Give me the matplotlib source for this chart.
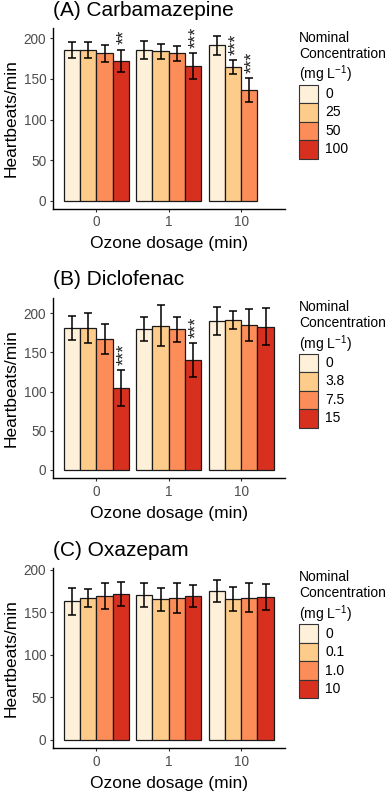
"""Heart rate bar charts for three drugs after ozone treatment (three stacked panels)."""
import numpy as np
import matplotlib
matplotlib.use("Agg")
import matplotlib.pyplot as plt
from matplotlib.patches import Rectangle

plt.rcParams["font.family"] = ["Liberation Sans", "DejaVu Sans"]
plt.rcParams["mathtext.fontset"] = "custom"
plt.rcParams["mathtext.rm"] = "Liberation Sans"

ozone_labels = ["0", "1", "10"]
colors = ["#FEF0D9", "#FDCC8A", "#FC8D59", "#D7301F"]
nan = np.nan

# rows = ozone dosage (0, 1, 10 min), columns = nominal concentration level
carb_conc = ["0", "25", "50", "100"]
carb_mean = [[185.6, 185.6, 182.0, 172.5],
             [185.6, 184.4, 182.0, 166.0],
             [191.4, 164.7, 136.0, nan]]
carb_err = [[9.5, 9.5, 10.5, 13.8],
            [11.0, 9.2, 9.2, 15.8],
            [11.7, 9.0, 15.0, nan]]
carb_stars = [(0, 3, "**"), (1, 3, "***"), (2, 1, "***"), (2, 2, "***")]

diclo_conc = ["0", "3.8", "7.5", "15"]
diclo_mean = [[181.2, 181.2, 167.0, 104.7],
              [180.3, 184.2, 179.5, 140.6],
              [189.7, 191.5, 185.0, 183.0]]
diclo_err = [[15.0, 19.0, 18.8, 22.4],
             [15.6, 26.5, 16.0, 21.4],
             [18.0, 11.3, 20.0, 23.3]]
diclo_stars = [(0, 3, "***"), (1, 3, "***")]

oxa_conc = ["0", "0.1", "1.0", "10"]
oxa_mean = [[163.1, 167.0, 169.8, 171.4],
            [170.6, 165.5, 167.0, 169.8],
            [175.4, 165.9, 167.5, 168.7]]
oxa_err = [[15.5, 10.5, 15.3, 14.1],
           [14.5, 13.3, 17.5, 13.1],
           [13.1, 14.3, 16.7, 15.3]]
oxa_stars = []

W, H = 387, 791
fig = plt.figure(figsize=(W / 100, H / 100), dpi=100)


def px_rect(left, top, right, bottom):
    return [left / W, 1 - bottom / H, (right - left) / W, (bottom - top) / H]


def panel(top, bottom, title, mean, err, stars, conc, ylim):
    ax = fig.add_axes(px_rect(53, top, 284.5, bottom))
    mean = np.array(mean, dtype=float)
    err = np.array(err, dtype=float)
    xs = np.arange(1, len(ozone_labels) + 1)
    bw = 0.9 / len(conc)
    for i in range(len(conc)):
        x = xs + (i - (len(conc) - 1) / 2) * bw
        ok = ~np.isnan(mean[:, i])
        ax.bar(x[ok], mean[ok, i], width=bw, color=colors[i],
               edgecolor="#1a1a1a", linewidth=0.9, zorder=2)
        ax.errorbar(x[ok], mean[ok, i], yerr=err[ok, i], fmt="none",
                    ecolor="black", elinewidth=1.1, capsize=2.9,
                    capthick=1.1, zorder=3)
    # significance stars, written sideways above the error bar
    for g, i, s in stars:
        x = xs[g] + (i - (len(conc) - 1) / 2) * bw
        ax.annotate(s, (x, mean[g, i] + err[g, i]), xytext=(2.6, 3.8),
                    textcoords="offset points", rotation=90,
                    ha="center", va="bottom", fontsize=13, color="#222222")

    ax.set_xlim(0.4, 3.6)
    ax.set_ylim(*ylim)
    ax.set_xticks(xs)
    ax.set_xticklabels(ozone_labels)
    ax.set_yticks([0, 50, 100, 150, 200])
    ax.tick_params(length=2.2, width=0.8, color="#333333",
                   labelcolor="#4D4D4D", labelsize=9.8, pad=2.6)
    for side in ["top", "right"]:
        ax.spines[side].set_visible(False)
    for side in ["left", "bottom"]:
        ax.spines[side].set_linewidth(1.0)
    ax.set_xlabel("Ozone dosage (min)", fontsize=12.5, labelpad=5)
    ax.set_ylabel("Heartbeats/min", fontsize=12.5, labelpad=4)
    ax.set_title(title, loc="left", fontsize=15, pad=8.8)

    # legend drawn by hand at the right of the panel
    fig.text(299 / W, 1 - (top + 2) / H,
             "Nominal\nConcentration\n(mg L$^{\\mathregular{-1}}$)",
             ha="left", va="top", fontsize=10, linespacing=1.2)
    key_h = 18.5
    for i, lab in enumerate(conc):
        ky = top + 56 + i * key_h
        fig.add_artist(Rectangle((299.3 / W, 1 - (ky + key_h) / H),
                                 18.8 / W, key_h / H,
                                 transform=fig.transFigure,
                                 facecolor=colors[i], edgecolor="#333333",
                                 linewidth=0.8))
        fig.text(325.5 / W, 1 - (ky + key_h / 2) / H, lab,
                 ha="left", va="center", fontsize=10)
    return ax


panel(28.5, 208.5, "(A) Carbamazepine", carb_mean, carb_err, carb_stars,
      carb_conc, (-9.8, 212.3))
panel(297.7, 478.3, "(B) Diclofenac", diclo_mean, diclo_err, diclo_stars,
      diclo_conc, (-10.6, 219.9))
panel(568.3, 748.3, "(C) Oxazepam", oxa_mean, oxa_err, oxa_stars,
      oxa_conc, (-9.9, 202.0))

fig.savefig("out.png", dpi=100)
